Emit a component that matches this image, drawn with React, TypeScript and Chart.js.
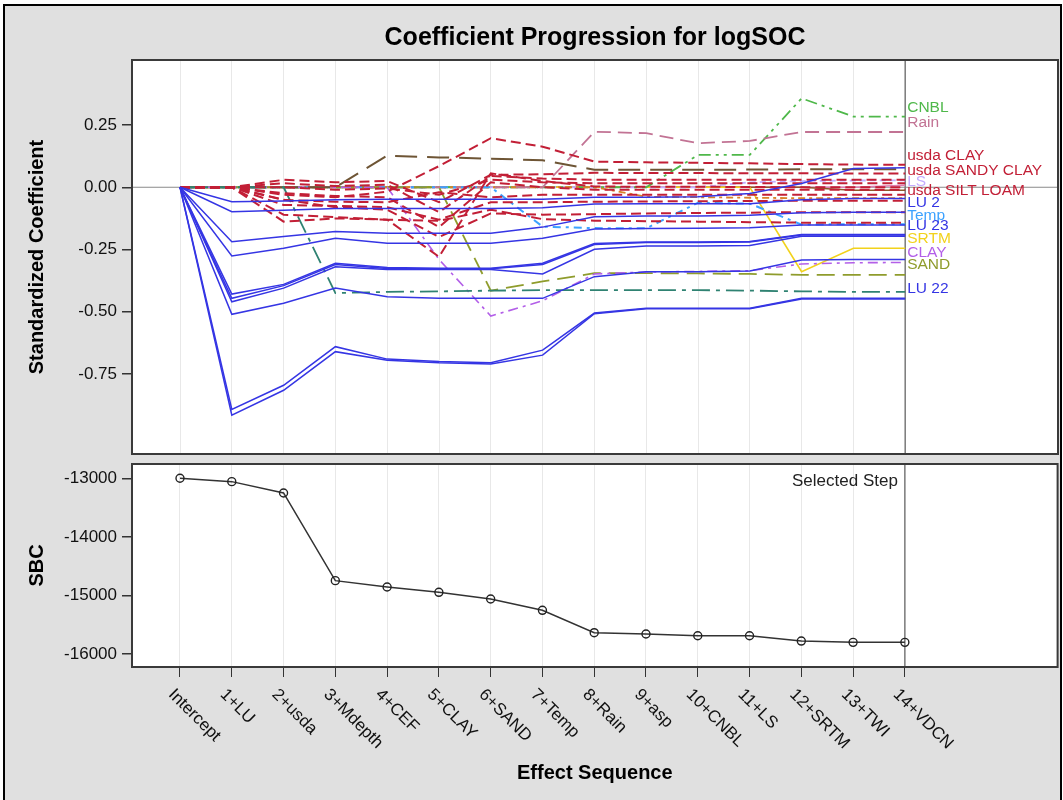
import React, { useEffect, useRef } from 'react';
import { Chart, registerables } from 'chart.js';

Chart.register(...registerables);

const FONT = '"Liberation Sans", Arial, Helvetica, sans-serif';

// Effect sequence (x axis) and the SBC criterion at each step
const effectSteps = [
  'Intercept', '1+LU', '2+usda', '3+Mdepth', '4+CEF', '5+CLAY', '6+SAND', '7+Temp',
  '8+Rain', '9+asp', '10+CNBL', '11+LS', '12+SRTM', '13+TWI', '14+VDCN',
];
const sbcValues = [
  -13000, -13057, -13251, -14748, -14856, -14947, -15061, -15254,
  -15636, -15659, -15688, -15688, -15779, -15801, -15801,
];
const selectedStep = 14;

const coefTicks = [0.25, 0, -0.25, -0.5, -0.75];
const sbcTicks = [-13000, -14000, -15000, -16000];

// Axis limits
const X_MIN = -0.927;
const X_MAX = 16.95;
const COEF_MIN = -1.071;
const COEF_MAX = 0.511;
const SBC_MIN = -16222;
const SBC_MAX = -12756;

// Standardized coefficients by step: LU levels
const lu1 = [0, -0.058, -0.055, -0.05, -0.048, -0.048, -0.048, -0.048, -0.04, -0.04, -0.038, -0.025, 0.015, 0.075, 0.078];
const lu2 = [0, -0.098, -0.092, -0.085, -0.085, -0.085, -0.085, -0.082, -0.067, -0.066, -0.066, -0.066, -0.05, -0.045, -0.045];
const lu3 = [0, -0.219, -0.198, -0.178, -0.185, -0.185, -0.185, -0.16, -0.118, -0.115, -0.115, -0.112, -0.102, -0.1, -0.1];
const lu23 = [0, -0.276, -0.245, -0.205, -0.225, -0.225, -0.225, -0.205, -0.168, -0.166, -0.165, -0.163, -0.152, -0.152, -0.152];
const lu11 = [0, -0.429, -0.39, -0.305, -0.322, -0.325, -0.325, -0.305, -0.226, -0.22, -0.22, -0.218, -0.19, -0.19, -0.19];
const lu12 = [0, -0.446, -0.395, -0.31, -0.326, -0.327, -0.327, -0.31, -0.23, -0.222, -0.222, -0.22, -0.192, -0.192, -0.192];
const lu13 = [0, -0.46, -0.405, -0.319, -0.33, -0.33, -0.33, -0.348, -0.249, -0.236, -0.236, -0.234, -0.197, -0.197, -0.197];
const lu21 = [0, -0.51, -0.466, -0.405, -0.44, -0.446, -0.446, -0.446, -0.359, -0.339, -0.339, -0.336, -0.292, -0.29, -0.29];
const lu22 = [0, -0.892, -0.795, -0.64, -0.69, -0.7, -0.705, -0.654, -0.505, -0.486, -0.486, -0.486, -0.446, -0.446, -0.446];
const lu31 = [0, -0.915, -0.815, -0.66, -0.695, -0.705, -0.71, -0.674, -0.508, -0.488, -0.488, -0.488, -0.449, -0.449, -0.449];

// usda texture classes
const usdaClay = [0, 0, -0.03, -0.04, -0.018, 0.085, 0.197, 0.163, 0.103, 0.1, 0.098, 0.096, 0.093, 0.091, 0.09];
const usdaSandyClay = [0, 0, 0.03, 0.02, 0.025, -0.06, 0.05, 0.052, 0.058, 0.057, 0.057, 0.056, 0.056, 0.055, 0.055];
const usdaLoam = [0, 0, 0.016, 0.005, 0.01, -0.1, 0.045, 0.035, 0.03, 0.03, 0.03, 0.03, 0.03, 0.03, 0.03];
const usdaClayLoam = [0, 0, 0, -0.01, -0.005, -0.03, 0.03, 0.02, 0.016, 0.016, 0.016, 0.016, 0.016, 0.016, 0.016];
const usdaSandyLoam = [0, 0, -0.138, -0.125, -0.13, -0.279, 0.056, 0.025, 0.003, 0.002, 0.002, 0.001, 0, 0, 0];
const usdaSiltLoam = [0, 0, -0.024, -0.035, -0.04, -0.16, 0.02, 0, -0.01, -0.01, -0.01, -0.01, -0.01, -0.01, -0.01];
const usdaSiltyClay = [0, 0, -0.051, -0.058, -0.06, -0.02, -0.04, -0.03, -0.03, -0.03, -0.03, -0.03, -0.03, -0.03, -0.03];
const usdaSandyClayLoam = [0, 0, -0.071, -0.075, -0.08, -0.13, -0.06, -0.06, -0.058, -0.057, -0.056, -0.055, -0.054, -0.054, -0.054];
const usdaLoamySand = [0, 0, -0.11, -0.12, -0.13, -0.135, -0.09, -0.128, -0.134, -0.136, -0.138, -0.14, -0.142, -0.142, -0.142];
const usdaSiltyClayLoam = [0, 0, -0.05, -0.08, -0.09, -0.2, -0.105, -0.11, -0.108, -0.105, -0.103, -0.102, -0.1, -0.1, -0.1];

// Continuous effects
const mdepth = [0, 0, 0, -0.425, -0.42, -0.418, -0.415, -0.413, -0.413, -0.413, -0.413, -0.415, -0.418, -0.42, -0.42];
const cef = [0, 0, 0, 0, 0.127, 0.12, 0.115, 0.108, 0.07, 0.07, 0.07, 0.071, 0.072, 0.072, 0.073];
const clay = [0, 0, 0, 0, 0, -0.29, -0.517, -0.456, -0.348, -0.34, -0.338, -0.335, -0.308, -0.303, -0.302];
const sand = [0, 0, 0, 0, 0, 0, -0.415, -0.378, -0.345, -0.345, -0.346, -0.348, -0.352, -0.352, -0.352];
const temp = [0, 0, 0, 0, 0, 0, 0, -0.158, -0.164, -0.165, -0.062, -0.066, -0.15, -0.148, -0.148];
const rain = [0, 0, 0, 0, 0, 0, 0, 0, 0.223, 0.217, 0.177, 0.186, 0.222, 0.222, 0.222];
const asp = [0, 0, 0, 0, 0, 0, 0, 0, 0, -0.038, -0.04, -0.042, -0.044, -0.044, -0.044];
const cnbl = [0, 0, 0, 0, 0, 0, 0, 0, 0, 0, 0.13, 0.13, 0.357, 0.284, 0.284];
const ls = [0, 0, 0, 0, 0, 0, 0, 0, 0, 0, 0, 0.02, 0.025, 0.027, 0.028];
const srtm = [0, 0, 0, 0, 0, 0, 0, 0, 0, 0, 0, 0, -0.339, -0.245, -0.245];
const twi = [0, 0, 0, 0, 0, 0, 0, 0, 0, 0, 0, 0, 0, -0.012, -0.012];
const vdcn = [0, 0, 0, 0, 0, 0, 0, 0, 0, 0, 0, 0, 0, 0, 0.008];

const BLUE = '#3535e4';
const RED = '#c21f36';
const USDA_DASH = [10, 5];

type Series = { name: string; data: number[]; color: string; width: number; dash: number[] };

const series: Series[] = [
  { name: 'LU 1', data: lu1, color: BLUE, width: 1.5, dash: [] },
  { name: 'LU 2', data: lu2, color: BLUE, width: 1.5, dash: [] },
  { name: 'LU 3', data: lu3, color: BLUE, width: 1.5, dash: [] },
  { name: 'LU 23', data: lu23, color: BLUE, width: 1.5, dash: [] },
  { name: 'LU 11', data: lu11, color: BLUE, width: 1.5, dash: [] },
  { name: 'LU 12', data: lu12, color: BLUE, width: 1.5, dash: [] },
  { name: 'LU 13', data: lu13, color: BLUE, width: 1.5, dash: [] },
  { name: 'LU 21', data: lu21, color: BLUE, width: 1.5, dash: [] },
  { name: 'LU 22', data: lu22, color: BLUE, width: 1.5, dash: [] },
  { name: 'LU 31', data: lu31, color: BLUE, width: 1.5, dash: [] },
  { name: 'usda CLAY', data: usdaClay, color: RED, width: 2, dash: USDA_DASH },
  { name: 'usda SANDY CLAY', data: usdaSandyClay, color: RED, width: 2, dash: USDA_DASH },
  { name: 'usda LOAM', data: usdaLoam, color: RED, width: 2, dash: USDA_DASH },
  { name: 'usda CLAY LOAM', data: usdaClayLoam, color: RED, width: 2, dash: USDA_DASH },
  { name: 'usda SANDY LOAM', data: usdaSandyLoam, color: RED, width: 2, dash: USDA_DASH },
  { name: 'usda SILT LOAM', data: usdaSiltLoam, color: RED, width: 2, dash: USDA_DASH },
  { name: 'usda SILTY CLAY', data: usdaSiltyClay, color: RED, width: 2, dash: USDA_DASH },
  { name: 'usda SANDY CLAY LOAM', data: usdaSandyClayLoam, color: RED, width: 2, dash: USDA_DASH },
  { name: 'usda LOAMY SAND', data: usdaLoamySand, color: RED, width: 2, dash: USDA_DASH },
  { name: 'usda SILTY CLAY LOAM', data: usdaSiltyClayLoam, color: RED, width: 2, dash: USDA_DASH },
  { name: 'Mdepth', data: mdepth, color: '#2f8272', width: 1.8, dash: [18, 6, 4, 6] },
  { name: 'CEF', data: cef, color: '#6e5535', width: 2, dash: [22, 10] },
  { name: 'CLAY', data: clay, color: '#b35fe8', width: 1.6, dash: [10, 5, 3, 5] },
  { name: 'SAND', data: sand, color: '#8f9c2c', width: 1.8, dash: [18, 8] },
  { name: 'Temp', data: temp, color: '#3ca2ff', width: 2, dash: [3, 5, 8, 5] },
  { name: 'Rain', data: rain, color: '#c27394', width: 1.8, dash: [14, 7] },
  { name: 'asp', data: asp, color: '#d9822b', width: 1.8, dash: [3, 4, 7, 4] },
  { name: 'CNBL', data: cnbl, color: '#4fb84a', width: 1.8, dash: [12, 5, 3, 5, 3, 5] },
  { name: 'LS', data: ls, color: '#c3acff', width: 1.8, dash: [6, 4] },
  { name: 'SRTM', data: srtm, color: '#f2d21b', width: 1.6, dash: [] },
  { name: 'TWI', data: twi, color: '#8b5a2b', width: 1.5, dash: [] },
  { name: 'VDCN', data: vdcn, color: '#e07bb0', width: 1.5, dash: [] },
];

// Curve labels at the selected step (position in coefficient units)
const endLabels = [
  { text: 'CNBL', at: 0.32, color: '#4fb84a' },
  { text: 'Rain', at: 0.26, color: '#c27394' },
  { text: 'usda CLAY', at: 0.126, color: RED },
  { text: 'usda SANDY CLAY', at: 0.066, color: RED },
  { text: 'LS', at: 0.023, color: '#c3acff' },
  { text: 'usda SILT LOAM', at: -0.015, color: RED },
  { text: 'LU 2', at: -0.064, color: BLUE },
  { text: 'Temp', at: -0.115, color: '#3ca2ff' },
  { text: 'LU 23', at: -0.156, color: BLUE },
  { text: 'SRTM', at: -0.205, color: '#f2d21b' },
  { text: 'CLAY', at: -0.263, color: '#b35fe8' },
  { text: 'SAND', at: -0.31, color: '#8f9c2c' },
  { text: 'LU 22', at: -0.406, color: BLUE },
];

const W = 1063;
const H = 800;

function fillArea(chart: any) {
  const { ctx, chartArea: a } = chart;
  ctx.save();
  ctx.fillStyle = '#ffffff';
  ctx.fillRect(a.left, a.top, a.right - a.left, a.bottom - a.top);
  ctx.restore();
}

function drawStepLine(chart: any) {
  const { ctx, chartArea: a } = chart;
  const x = chart.scales.x.getPixelForValue(selectedStep);
  ctx.save();
  ctx.strokeStyle = '#7a7a7a';
  ctx.lineWidth = 1.5;
  ctx.beginPath();
  ctx.moveTo(x, a.top);
  ctx.lineTo(x, a.bottom);
  ctx.stroke();
  ctx.restore();
}

function drawFrame(chart: any) {
  const { ctx, chartArea: a } = chart;
  ctx.save();
  ctx.strokeStyle = '#3a3a3a';
  ctx.lineWidth = 2;
  ctx.strokeRect(a.left, a.top, a.right - a.left, a.bottom - a.top);
  ctx.restore();
}

function drawVerticalTitle(ctx: CanvasRenderingContext2D, text: string, x: number, y: number) {
  ctx.save();
  ctx.translate(x, y);
  ctx.rotate(-Math.PI / 2);
  ctx.font = `bold 20px ${FONT}`;
  ctx.fillStyle = '#000';
  ctx.textAlign = 'center';
  ctx.textBaseline = 'middle';
  ctx.fillText(text, 0, 0);
  ctx.restore();
}

const coefDecor = {
  id: 'coefDecor',
  beforeDraw: fillArea,
  beforeDatasetsDraw(chart: any) {
    const { ctx, chartArea: a } = chart;
    const y0 = chart.scales.y.getPixelForValue(0);
    ctx.save();
    ctx.strokeStyle = '#8a8a8a';
    ctx.lineWidth = 1.2;
    ctx.beginPath();
    ctx.moveTo(a.left, y0);
    ctx.lineTo(a.right, y0);
    ctx.stroke();
    ctx.restore();
    drawStepLine(chart);
  },
  afterDraw(chart: any) {
    const { ctx, chartArea: a } = chart;
    drawFrame(chart);
    ctx.save();
    ctx.font = `bold 25px ${FONT}`;
    ctx.fillStyle = '#000';
    ctx.textAlign = 'center';
    ctx.textBaseline = 'middle';
    ctx.fillText('Coefficient Progression for logSOC', (a.left + a.right) / 2, 38);
    ctx.restore();
    drawVerticalTitle(ctx, 'Standardized Coefficient', 37, (a.top + a.bottom) / 2);

    const xEnd = chart.scales.x.getPixelForValue(selectedStep);
    ctx.save();
    ctx.font = `15.5px ${FONT}`;
    ctx.textAlign = 'left';
    ctx.textBaseline = 'middle';
    endLabels.forEach((l) => {
      ctx.fillStyle = l.color;
      ctx.fillText(l.text, xEnd + 2, chart.scales.y.getPixelForValue(l.at));
    });
    ctx.restore();
  },
};

const sbcDecor = {
  id: 'sbcDecor',
  beforeDraw: fillArea,
  beforeDatasetsDraw: drawStepLine,
  afterDraw(chart: any) {
    const { ctx, chartArea: a } = chart;
    drawFrame(chart);
    const xs = chart.scales.x;
    ctx.save();
    ctx.font = `17px ${FONT}`;
    ctx.fillStyle = '#111';
    ctx.textAlign = 'left';
    ctx.textBaseline = 'middle';
    effectSteps.forEach((label, i) => {
      const x = xs.getPixelForValue(i);
      ctx.save();
      ctx.translate(x - 9, a.bottom + 25);
      ctx.rotate(Math.PI / 4);
      ctx.fillText(label, 0, 0);
      ctx.restore();
    });
    ctx.font = `bold 20px ${FONT}`;
    ctx.fillStyle = '#000';
    ctx.textAlign = 'center';
    ctx.fillText('Effect Sequence', (a.left + a.right) / 2, 773);
    ctx.font = `17px ${FONT}`;
    ctx.fillStyle = '#222';
    ctx.textAlign = 'right';
    ctx.fillText('Selected Step', xs.getPixelForValue(selectedStep) - 7, a.top + 17);
    ctx.restore();
    drawVerticalTitle(ctx, 'SBC', 37, (a.top + a.bottom) / 2);
  },
};

const stepTicks = (scale: any) => {
  scale.ticks = effectSteps.map((_, i) => ({ value: i }));
};

export default function App() {
  const topRef = useRef<HTMLCanvasElement>(null);
  const bottomRef = useRef<HTMLCanvasElement>(null);

  useEffect(() => {
    if (!topRef.current || !bottomRef.current) return;

    const coefChart = new Chart(topRef.current, {
      type: 'line',
      data: {
        datasets: series.map((s) => ({
          label: s.name,
          data: s.data.map((v, i) => ({ x: i, y: v })),
          borderColor: s.color,
          borderWidth: s.width,
          borderDash: s.dash,
          pointRadius: 0,
          tension: 0,
          fill: false,
        })),
      },
      options: {
        animation: false,
        responsive: false,
        maintainAspectRatio: false,
        events: [],
        layout: { padding: { left: 62, top: 60, right: W - 1058, bottom: H - 454 } },
        plugins: { legend: { display: false }, tooltip: { enabled: false } },
        scales: {
          x: {
            type: 'linear',
            min: X_MIN,
            max: X_MAX,
            afterBuildTicks: stepTicks,
            afterFit: (s: any) => { s.height = 0; },
            ticks: { display: false },
            grid: { color: '#e8e8e8', lineWidth: 1, drawTicks: false },
            border: { display: false },
          },
          y: {
            type: 'linear',
            min: COEF_MIN,
            max: COEF_MAX,
            afterBuildTicks: (s: any) => { s.ticks = coefTicks.map((v) => ({ value: v })); },
            afterFit: (s: any) => { s.width = 70; },
            ticks: {
              callback: (v: any) => Number(v).toFixed(2),
              font: { family: FONT, size: 17 },
              color: '#111',
              padding: 5,
            },
            grid: { drawOnChartArea: false, drawTicks: true, tickLength: 10, tickColor: '#333', lineWidth: 1.5 },
            border: { display: false },
          },
        },
      } as any,
      plugins: [coefDecor],
    });

    const sbcChart = new Chart(bottomRef.current, {
      type: 'line',
      data: {
        datasets: [
          {
            label: 'SBC',
            data: sbcValues.map((v, i) => ({ x: i, y: v })),
            borderColor: '#333',
            borderWidth: 1.5,
            pointRadius: 4,
            pointStyle: 'circle',
            pointBorderColor: '#222',
            pointBackgroundColor: 'rgba(0,0,0,0)',
            pointBorderWidth: 1.4,
            tension: 0,
            fill: false,
          },
        ],
      },
      options: {
        animation: false,
        responsive: false,
        maintainAspectRatio: false,
        events: [],
        layout: { padding: { left: 62, top: 464, right: W - 1058, bottom: H - 667 - 10 } },
        plugins: { legend: { display: false }, tooltip: { enabled: false } },
        scales: {
          x: {
            type: 'linear',
            min: X_MIN,
            max: X_MAX,
            afterBuildTicks: stepTicks,
            afterFit: (s: any) => { s.height = 10; },
            ticks: { display: false },
            grid: { color: '#e8e8e8', lineWidth: 1, drawTicks: true, tickLength: 10, tickColor: '#333' },
            border: { display: false },
          },
          y: {
            type: 'linear',
            min: SBC_MIN,
            max: SBC_MAX,
            afterBuildTicks: (s: any) => { s.ticks = sbcTicks.map((v) => ({ value: v })); },
            afterFit: (s: any) => { s.width = 70; },
            ticks: {
              callback: (v: any) => String(v),
              font: { family: FONT, size: 17 },
              color: '#111',
              padding: 5,
            },
            grid: { drawOnChartArea: false, drawTicks: true, tickLength: 10, tickColor: '#333', lineWidth: 1.5 },
            border: { display: false },
          },
        },
      } as any,
      plugins: [sbcDecor],
    });

    return () => {
      coefChart.destroy();
      sbcChart.destroy();
    };
  }, []);

  const canvasStyle: React.CSSProperties = { position: 'absolute', left: 0, top: 0, width: W, height: H };

  return (
    <div style={{ position: 'absolute', left: 0, top: 0, width: W, height: H, overflow: 'hidden', background: '#fff' }}>
      <div
        style={{
          position: 'absolute',
          left: 3,
          top: 4,
          width: 1059,
          height: H + 10,
          boxSizing: 'border-box',
          border: '2px solid #000',
          background: '#e0e0e0',
        }}
      />
      <canvas ref={topRef} width={W} height={H} style={canvasStyle} />
      <canvas ref={bottomRef} width={W} height={H} style={canvasStyle} />
    </div>
  );
}
